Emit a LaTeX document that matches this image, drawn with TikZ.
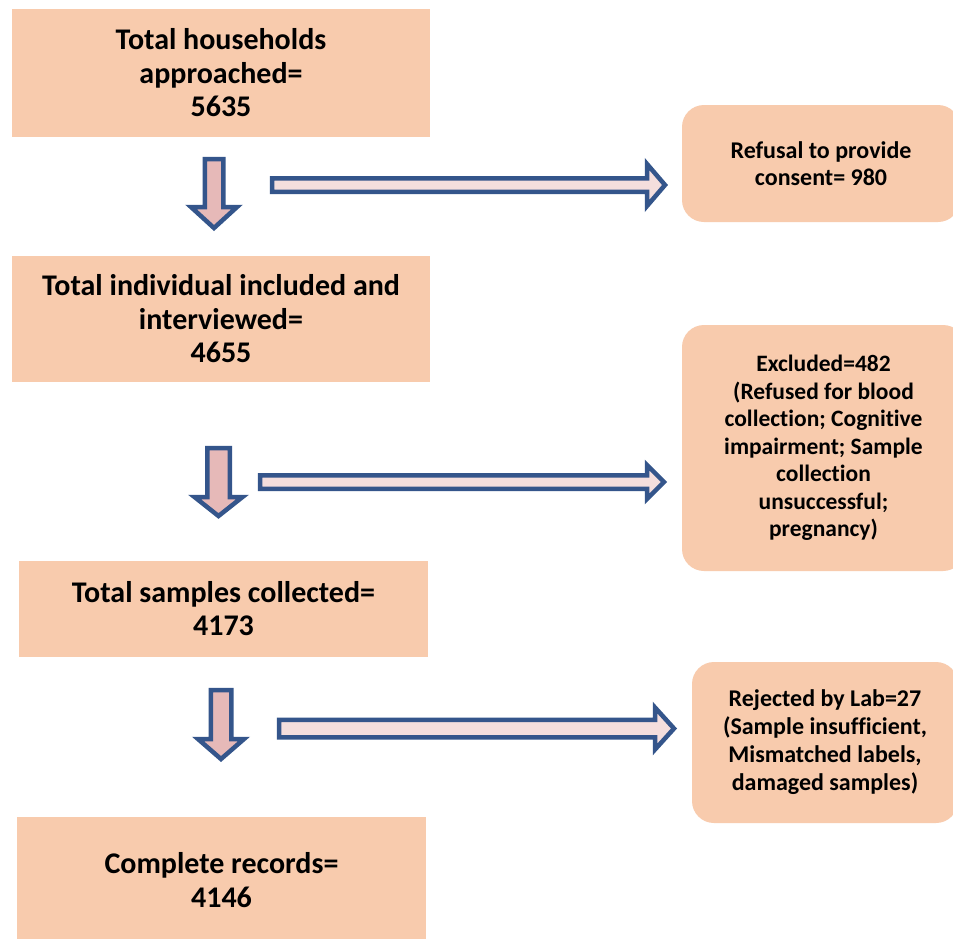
\documentclass[tikz,border=0pt]{standalone}
\usepackage{fontspec}
\setmainfont{Carlito}[Ligatures=NoCommon]
\definecolor{peach}{HTML}{F8CBAD}
\definecolor{arrline}{HTML}{34558B}
\definecolor{arrfillA}{HTML}{E6B9B8}
\definecolor{arrfillB}{HTML}{F4DEDD}
\tikzset{
  mainbox/.style={rectangle, fill=peach, inner sep=0pt, align=center,
    font=\fontsize{30}{33.5}\selectfont\bfseries},
  sidebox/.style={rectangle, rounded corners=22pt, fill=peach, inner sep=0pt, align=center,
    font=\fontsize{23.5}{27.5}\selectfont\bfseries},
  dnarrow/.style={draw=arrline, fill=arrfillA, line width=4.5pt, line join=miter},
  rtarrow/.style={draw=arrline, fill=arrfillB, line width=4.5pt, line join=miter}
}
% #1 cx, #2 top, #3 head start, #4 tip, #5 shaft half, #6 head half
\newcommand\DnArrow[6]{%
  \draw[dnarrow] (#1-#5,#2) -- (#1+#5,#2) -- (#1+#5,#3) -- (#1+#6,#3) -- (#1,#4)
    -- (#1-#6,#3) -- (#1-#5,#3) -- cycle;}
% #1 cy, #2 start, #3 head start, #4 tip, #5 shaft half, #6 head half
\newcommand\RtArrow[6]{%
  \draw[rtarrow] (#2,#1-#5) -- (#3,#1-#5) -- (#3,#1-#6) -- (#4,#1) -- (#3,#1+#6)
    -- (#3,#1+#5) -- (#2,#1+#5) -- cycle;}
\begin{document}
\begin{tikzpicture}[x=1pt,y=-1pt]
\clip (0,0) rectangle (953,938);
\fill[white] (0,0) rectangle (953,938);

% main boxes
\node[mainbox, minimum width=418pt, minimum height=128pt] (hh) at (221,73)
  {Total households\\approached=\\5635};
\node[mainbox, minimum width=418pt, minimum height=126pt] (ind) at (221,319)
  {Total individual included and\\interviewed=\\4655};
\node[mainbox, minimum width=409pt, minimum height=96pt] (samp) at (223.5,608.5)
  {Total samples collected=\\4173};
\node[mainbox, minimum width=409pt, minimum height=126pt] (rec) at (221.5,880)
  {Complete records=\\4146};

% side boxes
\node[sidebox, minimum width=278pt, minimum height=117pt,
  font=\fontsize{24}{27}\selectfont\bfseries] (ref) at (821,163.5)
  {Refusal to provide\\consent= 980};
\node[sidebox, minimum width=283pt, minimum height=246pt] (exc) at (823.5,448)
  {Excluded=482\\(Refused for blood\\collection; Cognitive\\impairment; Sample\\collection\\unsuccessful;\\pregnancy)};
\node[sidebox, minimum width=266pt, minimum height=161pt,
  font=\fontsize{24}{28}\selectfont\bfseries] (rej) at (825,742.5)
  {Rejected by Lab=27\\(Sample insufficient,\\Mismatched labels,\\damaged samples)};

% down arrows
\DnArrow{214}{159}{207}{228}{9.25}{23}
\DnArrow{218.5}{448}{497}{516}{11.25}{24}
\DnArrow{221}{690}{739}{759}{10.25}{23}

% right arrows
\RtArrow{185}{272}{647}{665}{6.75}{21}
\RtArrow{482}{260}{647}{664}{6.75}{17}
\RtArrow{728.5}{279}{655}{674}{8.75}{21}
\end{tikzpicture}
\end{document}
